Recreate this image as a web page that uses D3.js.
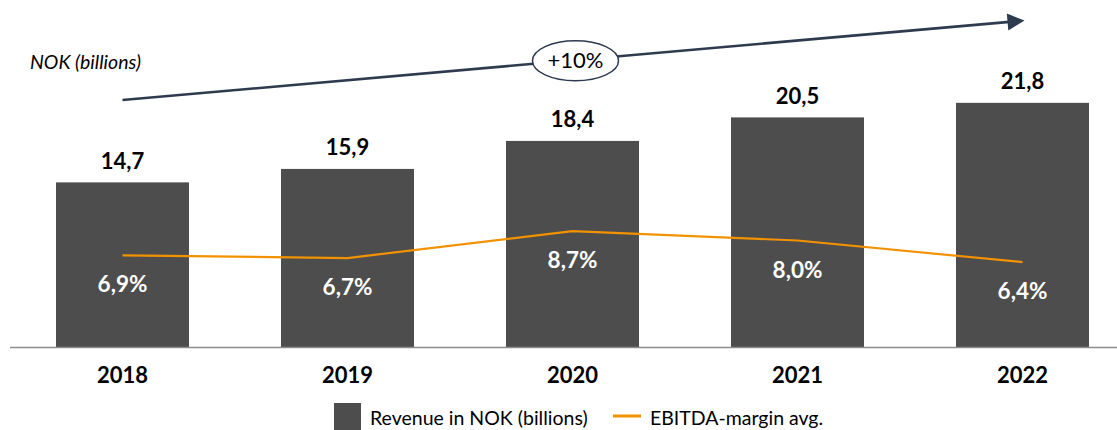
<!DOCTYPE html>
<html><head><meta charset="utf-8">
<script src="https://cdn.jsdelivr.net/npm/d3@7"></script>
<style>
html,body{margin:0;padding:0;background:#fff;}
svg{display:block;font-family:Lato,"Open Sans",sans-serif;}
</style></head>
<body>
<svg id="chart" width="1117" height="430"></svg>
<script>
const years = ["2018","2019","2020","2021","2022"];
const revenue = [14.7, 15.9, 18.4, 20.5, 21.8];
const revenueLabels = ["14,7","15,9","18,4","20,5","21,8"];
const margin = [6.9, 6.7, 8.7, 8.0, 6.4];
const marginLabels = ["6,9%","6,7%","8,7%","8,0%","6,4%"];
const unitLabel = "NOK (billions)";
const growthLabel = "+10%";
const legendLabels = ["Revenue in NOK (billions)", "EBITDA-margin avg."];

const barColor = "#4d4d4d", lineColor = "#f39200", arrowColor = "#2e3a4e";
const svg = d3.select("#chart");
const baseY = 347;

const x = d3.scaleBand().domain(years).range([11, 1134]).paddingInner(0.4089).paddingOuter(0.2);
const y = d3.scaleLinear().domain([0, 25]).range([baseY, baseY - 25 * 11.2]);
const y2 = d3.scaleLinear().domain([0, 10]).range([348.5, 213.5]);
const cx = d => x(d) + x.bandwidth() / 2;

// bars
svg.append("g").selectAll("rect").data(years).join("rect")
  .attr("x", d => x(d)).attr("width", x.bandwidth())
  .attr("y", (d, i) => y(revenue[i])).attr("height", (d, i) => baseY - y(revenue[i]))
  .attr("fill", barColor);

// baseline
svg.append("line").attr("x1", 10).attr("x2", 1117).attr("y1", baseY + 0.5).attr("y2", baseY + 0.5)
  .attr("stroke", "#8c8c8c").attr("stroke-width", 1.5);

// value labels
svg.append("g").selectAll("text").data(years).join("text")
  .attr("x", d => cx(d)).attr("y", (d, i) => y(revenue[i]) - 13.5)
  .attr("text-anchor", "middle").attr("font-size", 22).attr("font-weight", 700).attr("fill", "#000")
  .text((d, i) => revenueLabels[i]);

// EBITDA line
const line = d3.line().x(d => cx(d)).y(d => y2(margin[years.indexOf(d)]));
svg.append("path").datum(years).attr("d", line)
  .attr("fill", "none").attr("stroke", lineColor).attr("stroke-width", 2.2);

// margin labels
svg.append("g").selectAll("text").data(years).join("text")
  .attr("x", d => cx(d)).attr("y", (d, i) => y2(margin[i]) + 37)
  .attr("text-anchor", "middle").attr("font-size", 22.5).attr("font-weight", 700).attr("fill", "#fff")
  .text((d, i) => marginLabels[i]);

// x axis labels
const ax = svg.append("g").attr("transform", `translate(0,${baseY})`)
  .call(d3.axisBottom(x).tickSize(0).tickPadding(20));
ax.select(".domain").remove();
ax.selectAll("text").attr("font-size", 22).attr("font-weight", 700).attr("fill", "#000")
  .attr("font-family", "Lato,'Open Sans',sans-serif");

// unit label
svg.append("text").attr("x", 30).attr("y", 69).attr("font-size", 19.5).attr("font-style", "italic")
  .attr("fill", "#000").text(unitLabel);

// growth arrow
const ax0 = cx(years[0]), ay0 = y(22.05);
const ax1 = cx(years[years.length - 1]) + 2, ay1 = y(29.15);
const ang = Math.atan2(ay1 - ay0, ax1 - ax0);
const hl = 17, hw = 8.5;
const bx = ax1 - hl * Math.cos(ang), by = ay1 - hl * Math.sin(ang);
svg.append("line").attr("x1", ax0).attr("y1", ay0).attr("x2", bx + 2 * Math.cos(ang)).attr("y2", by + 2 * Math.sin(ang))
  .attr("stroke", arrowColor).attr("stroke-width", 2.6);
svg.append("polygon").attr("fill", arrowColor).attr("points", [
  [ax1, ay1],
  [bx - hw * Math.sin(ang), by + hw * Math.cos(ang)],
  [bx + hw * Math.sin(ang), by - hw * Math.cos(ang)]
].map(p => p.join(",")).join(" "));
const mx = (ax0 + ax1) / 2 + 2, my = (ay0 + ay1) / 2 + 0.5;
svg.append("ellipse").attr("cx", mx).attr("cy", my).attr("rx", 43).attr("ry", 20)
  .attr("fill", "#fff").attr("stroke", arrowColor).attr("stroke-width", 1.5);
svg.append("text").attr("x", mx).attr("y", my + 7.5).attr("text-anchor", "middle")
  .attr("font-size", 22).attr("fill", "#000").text(growthLabel);

// legend
const lg = svg.append("g");
lg.append("rect").attr("x", 334).attr("y", 403).attr("width", 27).attr("height", 27).attr("fill", barColor);
lg.append("text").attr("x", 370).attr("y", 425).attr("font-size", 19.5).attr("fill", "#000").text(legendLabels[0]);
lg.append("line").attr("x1", 613).attr("x2", 641).attr("y1", 416).attr("y2", 416)
  .attr("stroke", lineColor).attr("stroke-width", 3);
lg.append("text").attr("x", 650).attr("y", 425).attr("font-size", 19.5).attr("fill", "#000").text(legendLabels[1]);
</script>
</body></html>
